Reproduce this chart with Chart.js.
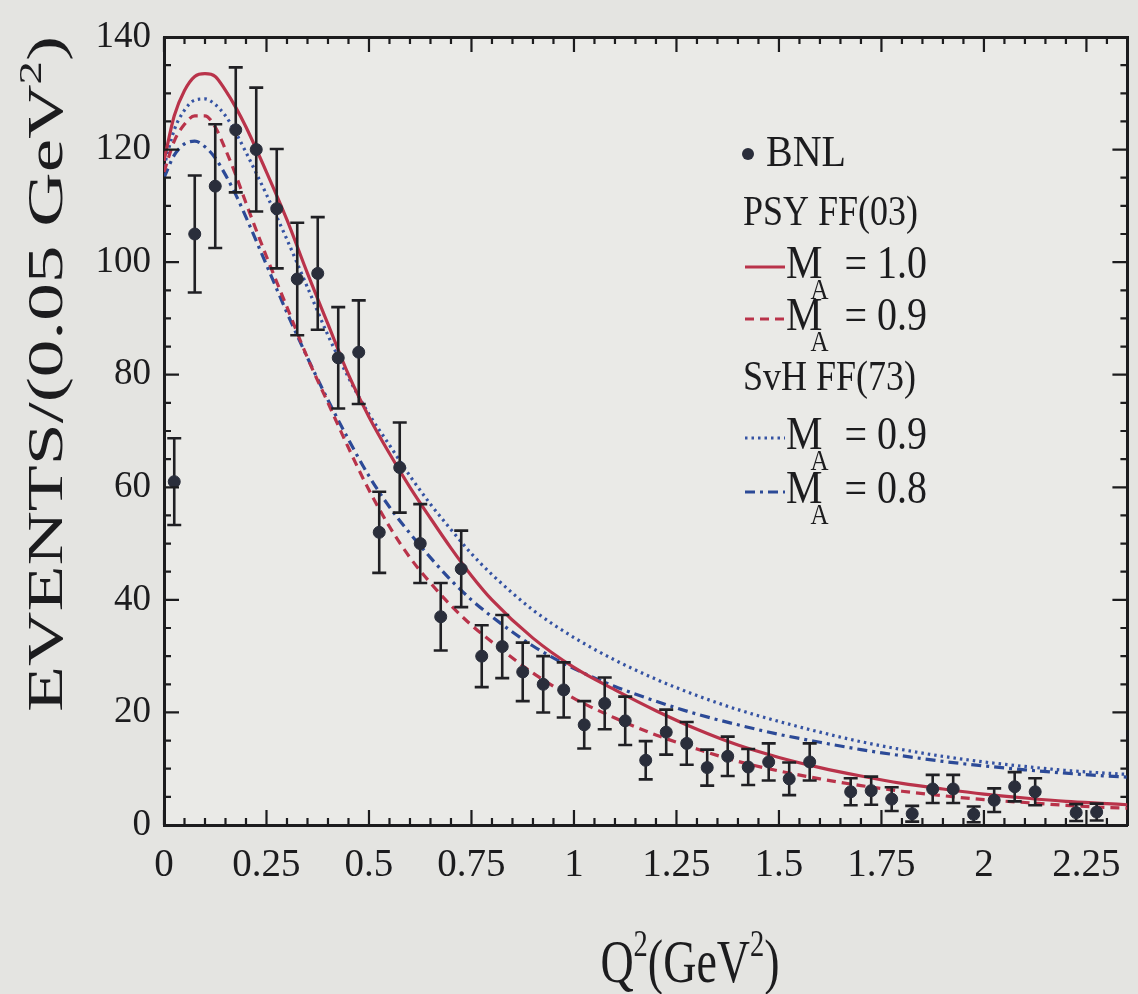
<!DOCTYPE html>
<html><head><meta charset="utf-8">
<script src="https://cdn.jsdelivr.net/npm/chart.js@4.4.1/dist/chart.umd.min.js"></script>
<style>
html,body{margin:0;padding:0;background:#e4e4e1;}
#wrap{width:1138px;height:994px;position:relative;}
</style>
</head><body>
<div id="wrap"><canvas id="c" width="1138" height="994"></canvas></div>
<script>
// ---- data ----
const binCenters = [0.025,0.075,0.125,0.175,0.225,0.275,0.325,0.375,0.425,0.475,0.525,0.575,0.625,0.675,0.725,0.775,0.825,0.875,0.925,0.975,1.025,1.075,1.125,1.175,1.225,1.275,1.325,1.375,1.425,1.475,1.525,1.575,1.625,1.675,1.725,1.775,1.825,1.875,1.925,1.975,2.025,2.075,2.125,2.175,2.225,2.275];
const bnlEvents = [61,105,113.5,123.5,120,109.5,97,98,83,84,52,63.5,50,37,45.5,30,31.7,27.2,25,24,17.8,21.6,18.5,11.5,16.5,14.5,10.2,12.2,10.3,11.2,8.2,11.2,null,5.9,6.1,4.6,2.0,6.4,6.4,1.9,4.4,6.8,5.9,null,2.2,2.3];
const bnlErrors = [7.7,10.4,11,11.1,11,10.6,10,10,9,9.2,7.2,8,7,6,6.8,5.5,5.6,5.2,5,4.9,4.2,4.6,4.3,3.4,4,3.8,3.2,3.5,3.2,3.3,2.9,3.3,null,2.4,2.5,2.1,1.4,2.5,2.5,1.4,2.1,2.6,2.4,null,1.5,1.5];

const curveQ2 = [0,0.025,0.05,0.075,0.1,0.125,0.15,0.175,0.2,0.25,0.3,0.35,0.4,0.45,0.5,0.55,0.6,0.65,0.7,0.75,0.8,0.9,1.0,1.1,1.2,1.3,1.4,1.5,1.6,1.7,1.8,1.9,2.0,2.1,2.2,2.3,2.35];
const psyMA10 = [118,126,130.5,133,133.5,133,130.5,127.5,124,116,107.5,98,89,80,72.5,66,60,54.5,49.2,44.3,40,33.2,28,24,20.3,17,14.2,12,10.2,8.7,7.4,6.4,5.5,4.8,4.2,3.8,3.6];
const psyMA09 = [116,121.5,124.5,126,126,124,120,115.5,110.5,101,92,83,75,67,59.5,53,47.5,43,39,35.5,32.5,27,22.5,19,16,13.5,11.3,9.6,8.2,7,6,5.2,4.5,4,3.5,3.1,3];
const svhMA09 = [117,123.5,127,128.8,129,128,126,123,119.5,112,104,95.5,87,79.5,73,67.5,62,57,52.5,48.2,44.5,38.2,33.3,29.3,25.9,23,20.5,18.4,16.5,14.8,13.4,12.2,11.2,10.4,9.7,9.2,9];
const svhMA08 = [115,119,121,121.5,120.5,118.5,115.5,112,108,99.5,91,83,75.5,68.5,62,56.5,51.8,47.5,43.5,40,37,31.8,27.8,24.6,22,19.7,17.8,16.1,14.7,13.4,12.3,11.3,10.5,9.8,9.2,8.7,8.5];

const xTickValues = [0,0.25,0.5,0.75,1,1.25,1.5,1.75,2,2.25];
const xTickLabels = ['0','0.25','0.5','0.75','1','1.25','1.5','1.75','2','2.25'];
const yTickValues = [0,20,40,60,80,100,120,140];
const yTickLabels = ['0','20','40','60','80','100','120','140'];

const xTitle = ['Q', '2', '(GeV', '2', ')'];
const yTitle = ['EVENTS/(0.05 GeV', '2', ')'];
const legendTitles = ['BNL', 'PSY FF(03)', 'SvH FF(73)'];
const legendMA = ['1.0', '0.9', '0.9', '0.8'];

// ---- styles ----
const RED = '#b9334a';
const BLUE = '#3553a3';
const BLUE2 = '#2c4a97';
const INK = '#1c1c1e';
const SERIF = "'Liberation Serif', 'DejaVu Serif', serif";

const toXY = (xs, ys) => xs.map((x, i) => ({x, y: ys[i]}));

const bgPlugin = {
  id: 'bgPlot',
  beforeDraw(chart) {
    const {ctx, chartArea: a} = chart;
    ctx.save();
    ctx.fillStyle = '#eaeae7';
    ctx.fillRect(a.left, a.top, a.right - a.left, a.bottom - a.top);
    ctx.restore();
  }
};

const errorBars = {
  id: 'errorBars',
  beforeDatasetDraw(chart, args) {
    if (args.index !== 0) return;
    const {ctx, scales: {x, y}} = chart;
    ctx.save();
    ctx.strokeStyle = '#202024';
    ctx.lineWidth = 2.6;
    binCenters.forEach((q, i) => {
      const v = bnlEvents[i], e = bnlErrors[i];
      if (v == null || e == null) return;
      const px = x.getPixelForValue(q);
      const y1 = y.getPixelForValue(Math.max(0, v - e));
      const y2 = y.getPixelForValue(v + e);
      ctx.beginPath();
      ctx.moveTo(px, y1); ctx.lineTo(px, y2);
      ctx.moveTo(px - 7, y1); ctx.lineTo(px + 7, y1);
      ctx.moveTo(px - 7, y2); ctx.lineTo(px + 7, y2);
      ctx.stroke();
    });
    ctx.restore();
  }
};

const frameTicks = {
  id: 'frameTicks',
  afterDatasetsDraw(chart) {
    const {ctx, chartArea: a, scales: {x, y}} = chart;
    ctx.save();
    ctx.strokeStyle = INK;
    ctx.lineWidth = 2.2;
    ctx.beginPath();
    for (let i = 0; i * 0.05 <= x.max + 1e-9; i++) {
      const px = x.getPixelForValue(i * 0.05);
      const L = i % 5 === 0 ? 15 : 7;
      ctx.moveTo(px, a.bottom); ctx.lineTo(px, a.bottom - L);
      ctx.moveTo(px, a.top); ctx.lineTo(px, a.top + L);
    }
    for (let i = 0; i * 5 <= y.max + 1e-9; i++) {
      const py = y.getPixelForValue(i * 5);
      const L = i % 4 === 0 ? 15 : 7;
      ctx.moveTo(a.left, py); ctx.lineTo(a.left + L, py);
      ctx.moveTo(a.right, py); ctx.lineTo(a.right - L, py);
    }
    ctx.stroke();
    ctx.restore();
  }
};

function drawPieces(ctx, pieces, x, y, size, supIdx, subIdx) {
  let cx = x;
  pieces.forEach((p, i) => {
    let fs = size, dy = 0;
    if (supIdx.includes(i)) { fs = size * 0.62; dy = -size * 0.42; }
    if (subIdx.includes(i)) { fs = size * 0.66; dy = size * 0.26; }
    ctx.font = fs + 'px ' + SERIF;
    ctx.fillText(p, cx, y + dy);
    cx += ctx.measureText(p).width;
  });
  return cx;
}
function piecesWidth(ctx, pieces, size, supIdx, subIdx) {
  let w = 0;
  pieces.forEach((p, i) => {
    let fs = size;
    if (supIdx.includes(i)) fs = size * 0.62;
    if (subIdx.includes(i)) fs = size * 0.66;
    ctx.font = fs + 'px ' + SERIF;
    w += ctx.measureText(p).width;
  });
  return w;
}

const textPlugin = {
  id: 'texts',
  afterDraw(chart) {
    const {ctx, data} = chart;
    ctx.save();
    ctx.fillStyle = INK;
    ctx.textBaseline = 'alphabetic';
    ctx.textAlign = 'left';

    // x title, stretched vertically
    {
      const size = 46, sy = 1.32;
      const w = piecesWidth(ctx, xTitle, size, [1, 3], []);
      ctx.save();
      ctx.translate(690 - w / 2, 982);
      ctx.scale(1, sy);
      drawPieces(ctx, xTitle, 0, 0, size, [1, 3], []);
      ctx.restore();
    }
    // y title rotated, stretched along its length
    {
      const size = 50;
      const w = piecesWidth(ctx, yTitle, size, [1], []);
      const sx = 676 / w;
      ctx.save();
      ctx.translate(62, 712);
      ctx.rotate(-Math.PI / 2);
      ctx.scale(sx, 1);
      drawPieces(ctx, yTitle, 0, 0, size, [1], []);
      ctx.restore();
    }

    // legend
    const ds = data.datasets;
    ctx.beginPath();
    ctx.fillStyle = ds[0].backgroundColor;
    ctx.arc(748, 154, 6, 0, Math.PI * 2);
    ctx.fill();
    ctx.fillStyle = INK;
    ctx.save();
    ctx.translate(766, 166); ctx.scale(1, 1.12);
    ctx.font = '40px ' + SERIF;
    ctx.fillText(legendTitles[0], 0, 0);
    ctx.restore();
    ctx.save();
    ctx.translate(743, 225); ctx.scale(1, 1.15);
    ctx.font = '36px ' + SERIF;
    ctx.fillText(legendTitles[1], 0, 0);
    ctx.restore();
    ctx.save();
    ctx.translate(743, 390); ctx.scale(1, 1.15);
    ctx.font = '36px ' + SERIF;
    ctx.fillText(legendTitles[2], 0, 0);
    ctx.restore();

    const rows = [
      {ds: ds[1], y: 278, ma: legendMA[0]},
      {ds: ds[2], y: 330, ma: legendMA[1]},
      {ds: ds[3], y: 449, ma: legendMA[2]},
      {ds: ds[4], y: 503, ma: legendMA[3]},
    ];
    rows.forEach(r => {
      ctx.save();
      ctx.strokeStyle = r.ds.borderColor;
      ctx.lineWidth = r.ds.borderWidth;
      ctx.setLineDash(r.ds.borderDash || []);
      ctx.beginPath();
      ctx.moveTo(745, r.y - 11);
      ctx.lineTo(785, r.y - 11);
      ctx.stroke();
      ctx.restore();
      ctx.save();
      ctx.fillStyle = INK;
      ctx.translate(786, r.y);
      ctx.scale(1, 1.15);
      ctx.font = '41px ' + SERIF;
      ctx.fillText('M', 0, 0);
      const mw = ctx.measureText('M').width;
      ctx.font = '25px ' + SERIF;
      ctx.fillText('A', mw - 12, 18);
      ctx.font = '40px ' + SERIF;
      ctx.fillText('= ' + r.ma, mw + 22, 0);
      ctx.restore();
    });
    ctx.restore();
  }
};

const chart = new Chart(document.getElementById('c'), {
  type: 'scatter',
  data: {
    datasets: [
      {
        label: 'BNL',
        data: toXY(binCenters, bnlEvents),
        backgroundColor: '#2a2e3b',
        borderColor: '#2a2e3b',
        pointRadius: 6,
        pointBorderWidth: 1,
        showLine: false
      },
      {
        label: 'PSY FF(03) M_A = 1.0',
        type: 'line',
        data: toXY(curveQ2, psyMA10),
        borderColor: RED, borderWidth: 3.2,
        pointRadius: 0, cubicInterpolationMode: 'monotone', fill: false
      },
      {
        label: 'PSY FF(03) M_A = 0.9',
        type: 'line',
        data: toXY(curveQ2, psyMA09),
        borderColor: RED, borderWidth: 3.2, borderDash: [9, 6],
        pointRadius: 0, cubicInterpolationMode: 'monotone', fill: false
      },
      {
        label: 'SvH FF(73) M_A = 0.9',
        type: 'line',
        data: toXY(curveQ2, svhMA09),
        borderColor: BLUE, borderWidth: 3.2, borderDash: [2.5, 4],
        pointRadius: 0, cubicInterpolationMode: 'monotone', fill: false
      },
      {
        label: 'SvH FF(73) M_A = 0.8',
        type: 'line',
        data: toXY(curveQ2, svhMA08),
        borderColor: BLUE2, borderWidth: 3.2, borderDash: [10, 5, 3, 5],
        pointRadius: 0, cubicInterpolationMode: 'monotone', fill: false
      }
    ]
  },
  options: {
    responsive: false,
    animation: false,
    devicePixelRatio: 1,
    layout: {padding: {left: 0, right: 3, top: 37, bottom: 0}},
    plugins: {legend: {display: false}, tooltip: {enabled: false}, title: {display: false}},
    scales: {
      x: {
        type: 'linear', position: 'bottom', min: 0, max: 2.35,
        afterBuildTicks: s => { s.ticks = xTickValues.map(v => ({value: v})); },
        afterFit: s => { s.height = 169; },
        grid: {display: false, drawTicks: false},
        border: {display: true, color: INK, width: 3},
        ticks: {
          autoSkip: false, maxRotation: 0, padding: 17, color: INK,
          font: {family: SERIF, size: 39},
          callback: (v) => xTickLabels[xTickValues.indexOf(v)]
        }
      },
      y: {
        type: 'linear', position: 'left', min: 0, max: 140,
        afterBuildTicks: s => { s.ticks = yTickValues.map(v => ({value: v})); },
        afterFit: s => { s.width = 164; },
        grid: {display: false, drawTicks: false},
        border: {display: true, color: INK, width: 3},
        ticks: {
          autoSkip: false, padding: 13, color: INK,
          font: {family: SERIF, size: 37},
          callback: (v) => yTickLabels[yTickValues.indexOf(v)]
        }
      },
      x2: {
        type: 'linear', position: 'top', min: 0, max: 2.35,
        afterFit: s => { s.height = 0; },
        grid: {display: false, drawTicks: false},
        border: {display: true, color: INK, width: 3},
        ticks: {display: false}
      },
      y2: {
        type: 'linear', position: 'right', min: 0, max: 140,
        afterFit: s => { s.width = 0; },
        grid: {display: false, drawTicks: false},
        border: {display: true, color: INK, width: 3},
        ticks: {display: false}
      }
    }
  },
  plugins: [bgPlugin, errorBars, frameTicks, textPlugin]
});
</script>
</body></html>
